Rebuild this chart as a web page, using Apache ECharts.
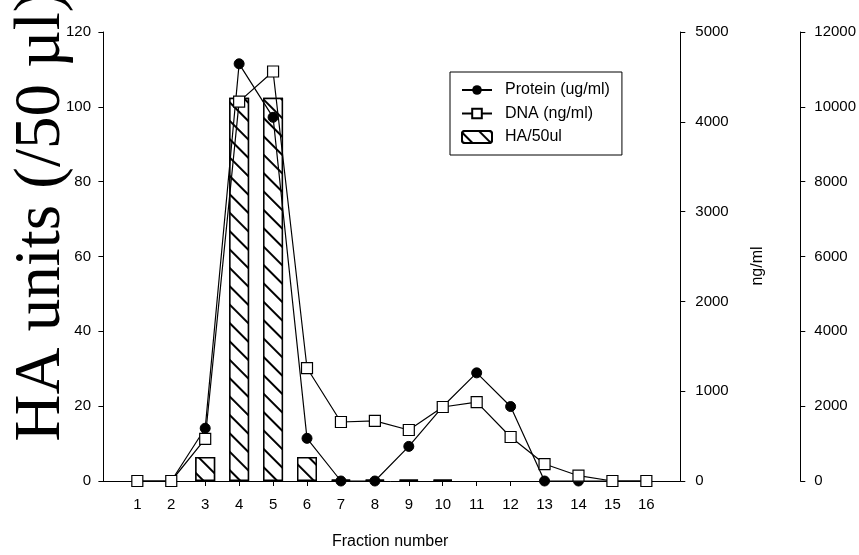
<!DOCTYPE html>
<html>
<head>
<meta charset="utf-8">
<script src="https://cdn.jsdelivr.net/npm/echarts@6/dist/echarts.min.js"></script>
<style>
html, body { margin: 0; padding: 0; background: #fff; }
#chart { width: 859px; height: 555px; }
</style>
</head>
<body>
<div id="chart"></div>
<script>
// fraction numbers
var fractions = [1, 2, 3, 4, 5, 6, 7, 8, 9, 10, 11, 12, 13, 14, 15, 16];
// HA units per 50 ul (left axis)
var haUnits = [0, 0, 6.4, 102.4, 102.4, 6.4, 0.4, 0.4, 0.4, 0.4, 0, 0, 0, 0, 0, 0];
// protein ug/ml (outer right axis)
var protein = [0, 0, 1410, 11150, 9720, 1140, 0, 0, 925, 1990, 2890, 1990, 0, 0, 0, 0];
// DNA ng/ml (right axis)
var dna = [0, 0, 470, 4225, 4560, 1258, 657, 670, 568, 824, 879, 490, 189, 59, 0, 0];

function pairs(vals, skipZero) {
    var out = [];
    for (var i = 0; i < fractions.length; i++) {
        if (skipZero && vals[i] === 0) continue;
        out.push([fractions[i], vals[i]]);
    }
    return out;
}

var FONT = 'Liberation Sans';
function plain(v) { return String(v); }

var myChart = echarts.init(document.getElementById('chart'));
var option = {
    animation: false,
    backgroundColor: '#fff',
    grid: { left: 100, right: 167, top: 32, bottom: 74 },
    legend: {
        orient: 'vertical',
        left: 450,
        top: 72,
        padding: [10, 12, 10, 11],
        itemWidth: 30,
        itemHeight: 12,
        itemGap: 7.5,
        borderColor: '#000',
        borderWidth: 1,
        borderRadius: 0,
        textStyle: { color: '#000', fontSize: 16, fontFamily: FONT, padding: [0, 0, 0, 8] },
        data: ['Protein (ug/ml)', 'DNA (ng/ml)', 'HA/50ul']
    },
    graphic: [
        {
            type: 'text',
            x: 42,
            y: 216,
            rotation: Math.PI / 2,
            style: {
                text: 'HA units (/50 µl)',
                font: '65px "Liberation Serif"',
                fill: '#000',
                textAlign: 'center',
                textVerticalAlign: 'middle'
            },
            z: 10
        },
        {
            type: 'text',
            x: 758,
            y: 266,
            rotation: Math.PI / 2,
            style: {
                text: 'ng/ml',
                font: '16px "Liberation Sans"',
                fill: '#000',
                textAlign: 'center',
                textVerticalAlign: 'middle'
            }
        }
    ],
    xAxis: {
        type: 'value',
        min: -0.1,
        max: 17,
        name: 'Fraction number',
        nameLocation: 'middle',
        nameGap: 53,
        nameTextStyle: { color: '#000', fontSize: 16, fontFamily: FONT },
        axisLine: { lineStyle: { color: '#000', width: 1 } },
        axisTick: { show: true, length: 5, lineStyle: { color: '#000' }, customValues: fractions },
        axisLabel: { color: '#000', fontSize: 15, fontFamily: FONT, margin: 16, customValues: fractions },
        splitLine: { show: false }
    },
    yAxis: [
        {
            type: 'value',
            position: 'left',
            min: 0,
            max: 120,
            interval: 20,
            axisLine: { show: true, lineStyle: { color: '#000', width: 1 } },
            axisTick: { show: true, length: 5, lineStyle: { color: '#000' } },
            axisLabel: { color: '#000', fontSize: 15, fontFamily: FONT, margin: 9, formatter: plain },
            splitLine: { show: false }
        },
        {
            type: 'value',
            position: 'right',
            min: 0,
            max: 5000,
            interval: 1000,
            axisLine: { show: true, lineStyle: { color: '#000', width: 1 } },
            axisTick: { show: true, length: 5, lineStyle: { color: '#000' } },
            axisLabel: { color: '#000', fontSize: 15, fontFamily: FONT, margin: 15, formatter: plain },
            splitLine: { show: false }
        },
        {
            type: 'value',
            position: 'right',
            offset: 120,
            min: 0,
            max: 12000,
            interval: 2000,
            axisLine: { show: true, lineStyle: { color: '#000', width: 1 } },
            axisTick: { show: true, length: 5, lineStyle: { color: '#000' } },
            axisLabel: { color: '#000', fontSize: 15, fontFamily: FONT, margin: 14, formatter: plain },
            splitLine: { show: false }
        }
    ],
    series: [
        {
            name: 'HA/50ul',
            type: 'bar',
            yAxisIndex: 0,
            barWidth: 20,
            data: pairs(haUnits, true),
            itemStyle: {
                color: '#fff',
                borderColor: '#000',
                borderWidth: 1.5,
                decal: {
                    symbol: 'rect',
                    symbolSize: 1,
                    color: '#000',
                    backgroundColor: '#fff',
                    dashArrayX: [1, 0],
                    dashArrayY: [1.5, 11],
                    rotation: Math.PI / 4
                }
            },
            z: 1
        },
        {
            name: 'Protein (ug/ml)',
            type: 'line',
            yAxisIndex: 2,
            data: pairs(protein),
            symbol: 'circle',
            symbolSize: 10,
            lineStyle: { color: '#000', width: 1.2 },
            itemStyle: { color: '#000', borderColor: '#000' },
            z: 3
        },
        {
            name: 'DNA (ng/ml)',
            type: 'line',
            yAxisIndex: 1,
            data: pairs(dna),
            symbol: 'rect',
            symbolSize: 11,
            lineStyle: { color: '#000', width: 1.2 },
            itemStyle: { color: '#fff', borderColor: '#000', borderWidth: 1.2 },
            z: 4
        }
    ]
};
myChart.setOption(option);
</script>
</body>
</html>
